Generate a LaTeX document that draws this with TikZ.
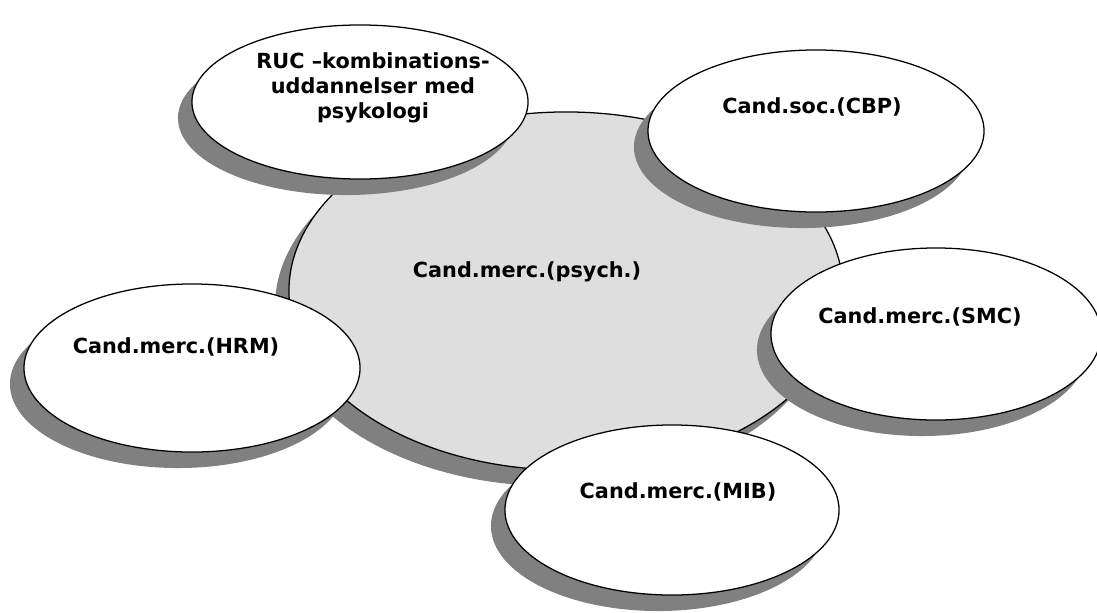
\documentclass[tikz,border=0pt]{standalone}
\usepackage{fontspec}
\setmainfont{DejaVu Sans}
\usepackage{tikz}
\usetikzlibrary{shapes.geometric,shadows}
\definecolor{hubgray}{gray}{0.87}
\definecolor{shadegray}{gray}{0.5}
\tikzset{
  bubble/.style={ellipse, draw=black, line width=0.9pt, fill=white, inner sep=0pt,
    minimum width=8.4cm, minimum height=4.1cm,
    drop shadow={shadow xshift=-0.35cm, shadow yshift=-0.4cm, fill=shadegray, opacity=1}},
  hub/.style={bubble, fill=hubgray, minimum width=13.85cm, minimum height=8.95cm},
  lbl/.style={font=\bfseries\fontsize{14.8}{17.8}\selectfont, align=center, inner sep=0pt}
}

\begin{document}
\begin{tikzpicture}[x=0.025cm,y=-0.025cm]
	\useasboundingbox (0,0) rectangle (1097,612);
	\node[hub] (psych) at (566,291) {};
	\node[bubble, minimum height=3.85cm] (ruc) at (360,102) {};
	\node[bubble, minimum height=4.05cm] (cbp) at (816,131) {};
	\node[bubble, minimum height=4.2cm] (hrm) at (192,368) {};
	\node[bubble, minimum width=8.25cm, minimum height=4.3cm] (smc) at (936,334) {};
	\node[bubble, minimum width=8.35cm, minimum height=4.25cm] (mib) at (672,510) {};
	\node[lbl] (psychtxt) at (527,272) {Cand.merc.(psych.)};
	\node[lbl] (ructxt) at (373,88) {RUC –kombinations-\\uddannelser med\\psykologi};
	\node[lbl] (cbptxt) at (812,107) {Cand.soc.(CBP)};
	\node[lbl] (hrmtxt) at (176,347) {Cand.merc.(HRM)};
	\node[lbl] (smctxt) at (920,317) {Cand.merc.(SMC)};
	\node[lbl] (mibtxt) at (678,492) {Cand.merc.(MIB)};
\end{tikzpicture}
\end{document}
